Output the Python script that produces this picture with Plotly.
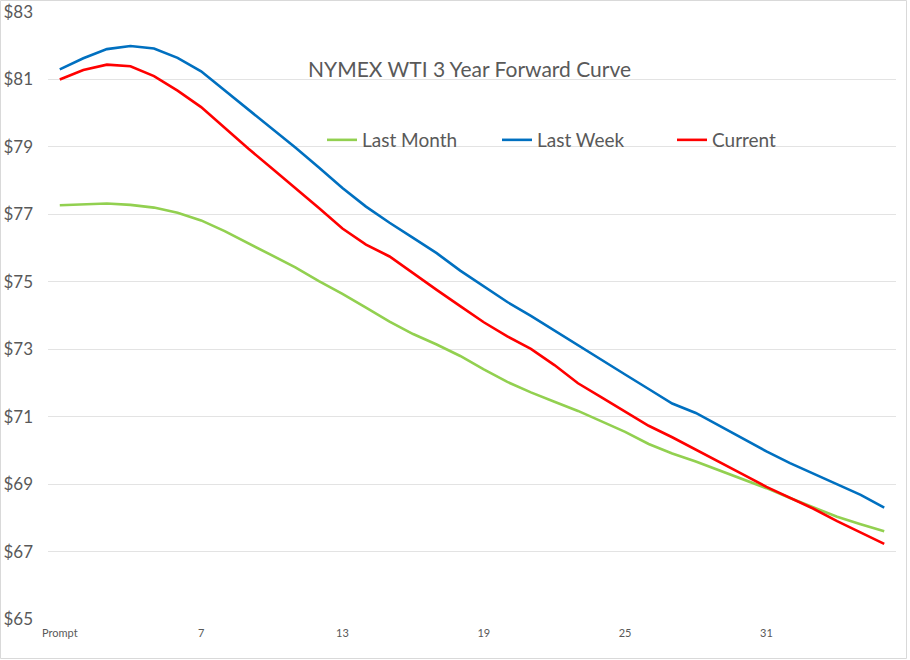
import plotly.graph_objects as go

months = ["Prompt"] + [str(i) for i in range(2, 37)]
tick_months = ["Prompt", "7", "13", "19", "25", "31"]

last_month = [77.27, 77.30, 77.32, 77.28, 77.20, 77.05, 76.82, 76.50, 76.15, 75.80,
              75.43, 75.02, 74.64, 74.23, 73.82, 73.45, 73.14, 72.80, 72.40, 72.03,
              71.72, 71.44, 71.17, 70.86, 70.55, 70.19, 69.91, 69.67, 69.41, 69.14,
              68.88, 68.59, 68.31, 68.03, 67.81, 67.60]
last_week = [81.30, 81.63, 81.90, 81.99, 81.92, 81.64, 81.24, 80.68, 80.12, 79.56,
             78.98, 78.39, 77.78, 77.23, 76.75, 76.30, 75.85, 75.33, 74.86, 74.40,
             73.99, 73.55, 73.11, 72.68, 72.25, 71.82, 71.39, 71.11, 70.73, 70.33,
             69.97, 69.62, 69.31, 68.98, 68.68, 68.30]
current = [81.00, 81.28, 81.44, 81.39, 81.10, 80.67, 80.18, 79.56, 78.95, 78.37,
           77.79, 77.19, 76.58, 76.10, 75.75, 75.25, 74.76, 74.28, 73.80, 73.38,
           73.01, 72.53, 71.99, 71.57, 71.15, 70.73, 70.39, 70.03, 69.66, 69.29,
           68.92, 68.59, 68.27, 67.90, 67.56, 67.23]
y_ticks = [65, 67, 69, 71, 73, 75, 77, 79, 81, 83]
y_tick_labels = ["$" + str(v) for v in y_ticks]

series = [("Last Month", last_month, "#92D050"),
          ("Last Week", last_week, "#0070C0"),
          ("Current", current, "#FF0000")]

fig = go.Figure()
for name, vals, color in series:
    fig.add_trace(go.Scatter(x=months, y=vals, name=name, mode="lines",
                             line=dict(color=color, width=2.6)))

W, H = 910, 660
ml, mr, mt, mb = 48, 14, 12, 41
pw, ph = W - ml - mr, H - mt - mb

fig.update_layout(
    width=W, height=H,
    margin=dict(l=ml, r=mr, t=mt, b=mb),
    paper_bgcolor="white", plot_bgcolor="white",
    font=dict(family="Lato, sans-serif", color="#595959"),
    showlegend=True,
    legend=dict(orientation="h", x=(322 - ml) / pw, xanchor="left",
                y=1 - (121 - mt) / ph, yanchor="top",
                font=dict(size=19, color="#595959"),
                bgcolor="rgba(0,0,0,0)", entrywidth=130, entrywidthmode="pixels",
                itemwidth=30),
    annotations=[dict(text="NYMEX WTI 3 Year Forward Curve", xref="paper", yref="paper",
                      x=(469 - ml) / pw, y=1 - (69 - mt) / ph, xanchor="center", yanchor="middle",
                      showarrow=False, font=dict(size=21, color="#595959"))],
    shapes=[dict(type="rect", xref="paper", yref="paper",
                 x0=(0.5 - ml) / pw, x1=(906.5 - ml) / pw,
                 y0=-(658.5 - (H - mb)) / ph, y1=1 + (mt - 0.5) / ph,
                 line=dict(color="#d9d9d9", width=1), layer="below")],
)
fig.update_xaxes(type="category", range=[-0.5, len(months) - 0.5], automargin=False,
                 tickvals=tick_months, ticktext=tick_months, ticklabelstandoff=6,
                 showgrid=False, showline=False, zeroline=False, ticks="",
                 tickfont=dict(size=11, color="#595959"))
fig.update_yaxes(range=[65, 83], tickvals=y_ticks, ticktext=y_tick_labels, automargin=False,
                 showgrid=True, gridcolor="#e3e3e3", gridwidth=1,
                 zeroline=False, showline=False, ticks="", ticklabelstandoff=14,
                 tickfont=dict(size=17, color="#595959"))

fig.write_html("out.html", config={"displayModeBar": False},
               post_script="document.body.style.margin='0';")
